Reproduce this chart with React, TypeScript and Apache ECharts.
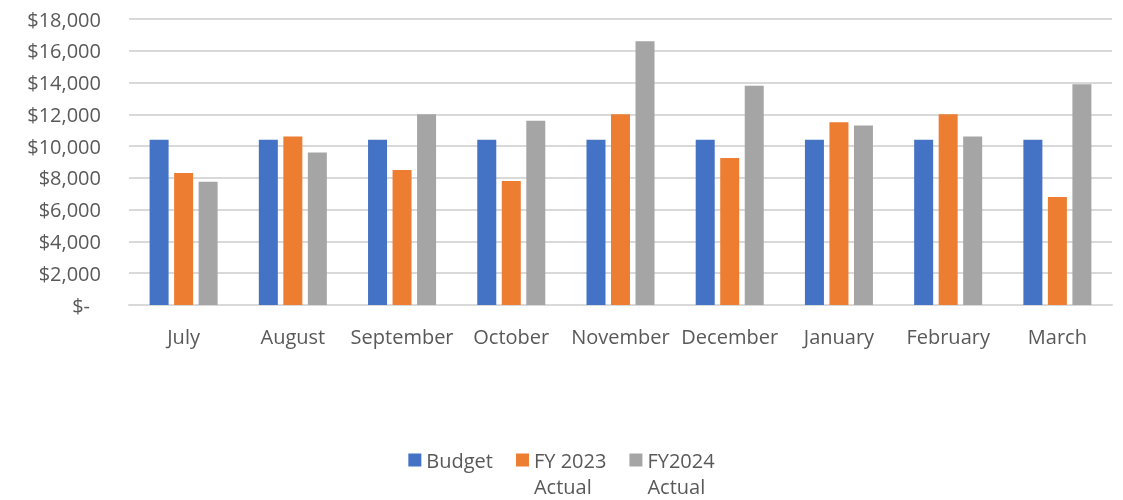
import React, { useEffect, useRef } from "react";
import * as echarts from "echarts";

const months = ["July", "August", "September", "October", "November", "December", "January", "February", "March"];
const budget = [10400, 10400, 10400, 10400, 10400, 10400, 10400, 10400, 10400];
const fy2023Actual = [8300, 10600, 8500, 7800, 12000, 9250, 11500, 12000, 6800];
const fy2024Actual = [7750, 9600, 12000, 11600, 16600, 13800, 11300, 10600, 13900];
const seriesNames = ["Budget", "FY 2023 Actual", "FY2024 Actual"];
const yMin = 0;
const yMax = 18000;
const yStep = 2000;

const FONT = "'Open Sans', 'Noto Sans', sans-serif";
const TEXT = "#595959";

export default function App() {
  const ref = useRef<HTMLDivElement>(null);
  useEffect(() => {
    if (!ref.current) return;
    const chart = echarts.init(ref.current, null, { renderer: "svg" });
    const colors = ["#4472C4", "#ED7D31", "#A5A5A5"];
    const data = [budget, fy2023Actual, fy2024Actual];
    chart.setOption({
      animation: false,
      color: colors,
      textStyle: { fontFamily: FONT },
      grid: { left: 129, right: 11, top: 19, bottom: 195, containLabel: false },
      xAxis: {
        type: "category",
        data: months,
        axisLine: { show: true, lineStyle: { color: "#D9D9D9", width: 2 } },
        axisTick: { show: false },
        axisLabel: { color: TEXT, fontSize: 20, fontFamily: FONT, margin: 21, interval: 0 },
      },
      yAxis: {
        type: "value",
        min: yMin,
        max: yMax,
        interval: yStep,
        axisLine: { show: false },
        axisTick: { show: false },
        splitLine: { lineStyle: { color: "#D9D9D9", width: 2 } },
        axisLabel: {
          color: TEXT,
          fontSize: 20,
          fontFamily: FONT,
          margin: 28,
          formatter: (v: number) => (v === 0 ? "{z|$-}" : "$" + v.toLocaleString("en-US")),
          rich: {
            z: { color: TEXT, fontSize: 20, fontFamily: FONT, padding: [0, 11, 0, 0] },
          },
        },
      },
      legend: {
        left: "center",
        top: 447,
        padding: 0,
        itemWidth: 13,
        itemHeight: 39,
        itemGap: 23,
        icon: "path://M0,0H13V13H0Z M0,39H0.001V39Z",
        data: seriesNames,
        formatter: (name: string) => (name.indexOf(" Actual") >= 0 ? name.replace(" Actual", "\nActual") : name + "\n "),
        textStyle: { color: TEXT, fontSize: 20, fontFamily: FONT, lineHeight: 26 },
      },
      series: seriesNames.map((n, i) => ({
        name: n,
        type: "bar",
        data: data[i],
        barWidth: 19,
        barGap: "29%",
        itemStyle: { color: colors[i] },
      })),
    });
    return () => chart.dispose();
  }, []);
  return <div ref={ref} style={{ position: "fixed", left: 0, top: 0, width: 1123, height: 500 }} />;
}
